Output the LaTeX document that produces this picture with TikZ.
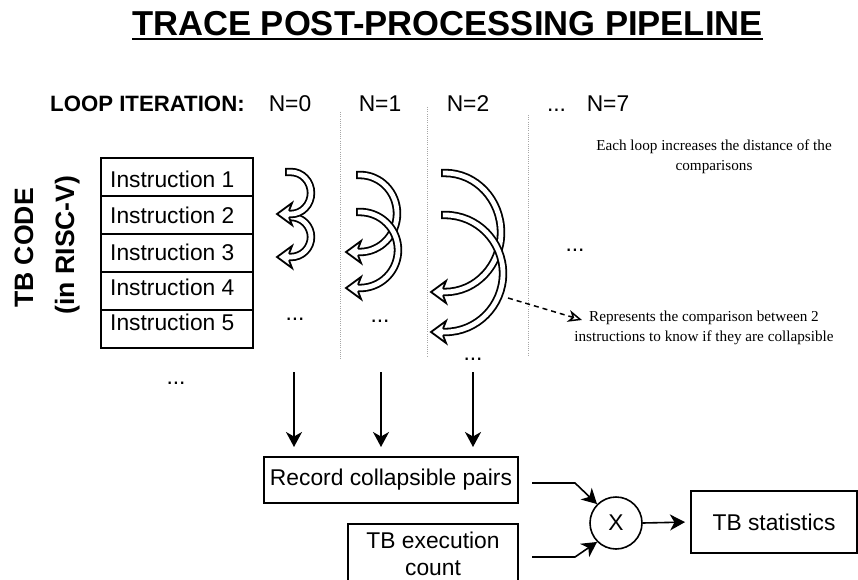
\documentclass[tikz,border=0pt]{standalone}
\usepackage{fontspec}
\setmainfont{Liberation Sans}
\newfontfamily\serifann{Liberation Serif}
\usetikzlibrary{arrows.meta,calc}
\newcommand\cmparrow[5]{%
  \pgfmathsetmacro\cry{(#4-#3)/2}%
  \pgfmathsetmacro\cmy{(#3+#4)/2}%
  \pgfmathsetmacro\ckx{0.5523*#5}%
  \pgfmathsetmacro\cky{0.5523*\cry}%
  \draw[line width=8.4pt, postaction={draw=white, line width=4.8pt, shorten <=1.8pt}]
    (#1,#3) -- (#2,#3) .. controls ({#2+\ckx},#3) and ({#2+#5},{\cmy-\cky}) .. ({#2+#5},\cmy)
    .. controls ({#2+#5},{\cmy+\cky}) and ({#2+\ckx},#4) .. (#2,#4) -- ({#2-2},#4);
  \fill[white] ({#2-2},{#4-3.3}) -- ({#2+1},{#4-11}) -- ({#2-14},#4) -- ({#2+1},{#4+11}) -- ({#2-2},{#4+3.3}) -- cycle;
  \draw[line width=1.8pt, line join=miter] ({#2-2},{#4-3.3}) -- ({#2+1},{#4-11}) -- ({#2-14},#4) -- ({#2+1},{#4+11}) -- ({#2-2},{#4+3.3});
}
\begin{document}
\begin{tikzpicture}[x=1pt,y=-1pt,
  lbl/.style={font=\fontsize{22.8}{27}\selectfont, inner sep=0pt},
  bx/.style={draw, line width=2pt, inner sep=0pt},
  rowbox/.style={bx, minimum width=152pt, minimum height=38pt},
  conn/.style={line width=1.6pt, -{Stealth[length=15pt,width=16pt,inset=4.5pt]}},
  vdots/.style={draw=gray!70, line width=0.8pt, dash pattern=on 1pt off 1.2pt},
  ann/.style={font=\serifann\fontsize{15.2}{20}\selectfont, align=center, inner sep=0pt}
]
\useasboundingbox (0,0) rectangle (858,580);
\clip (0,0) rectangle (858,580);

% title
\node[anchor=base, inner sep=0pt, font=\fontsize{34.6}{40}\selectfont\bfseries] (title) at (447.5,36) {TRACE POST-PROCESSING PIPELINE};
\draw[line width=2pt] ($(title.base west)+(0,3.5)$) -- ($(title.base east)+(0,3.5)$);

% loop iteration header
\node[lbl, anchor=base west, font=\fontsize{22.2}{27}\selectfont\bfseries] (loop) at (50,111.5) {LOOP ITERATION:};
\node[lbl, anchor=base] (n0) at (290,111.5) {N=0};
\node[lbl, anchor=base] (n1) at (380,111.5) {N=1};
\node[lbl, anchor=base] (n2) at (468,111.5) {N=2};
\node[lbl, anchor=base] (nd) at (556.5,111.5) {...};
\node[lbl, anchor=base] (n7) at (608,111.5) {N=7};

% dotted separators
\draw[vdots] (340,112) -- (340,360);
\draw[vdots] (427,107) -- (427,357);
\draw[vdots] (528,115) -- (528,355);

% TB code labels
\node[inner sep=0pt, rotate=90, anchor=base, font=\fontsize{26.6}{30}\selectfont\bfseries] (tbc) at (33,248) {TB CODE};
\node[inner sep=0pt, rotate=90, anchor=base, font=\fontsize{26.6}{30}\selectfont\bfseries] (risc) at (74,245) {(in RISC-V)};

% instruction rows
\node[rowbox] (r1) at (177,177) {};
\node[rowbox] (r2) at (177,215) {};
\node[rowbox] (r3) at (177,253) {};
\node[rowbox] (r4) at (177,291) {};
\node[rowbox] (r5) at (177,329) {};
\node[lbl, anchor=base west] (t1) at (110,187.3) {Instruction 1};
\node[lbl, anchor=base west] (t2) at (110,223.3) {Instruction 2};
\node[lbl, anchor=base west] (t3) at (110,260) {Instruction 3};
\node[lbl, anchor=base west] (t4) at (110,295) {Instruction 4};
\node[lbl, anchor=base west] (t5) at (110,330.7) {Instruction 5};
\node[lbl, anchor=base] (dI) at (176,384.5) {...};

% comparison arrows
\cmparrow{287}{291}{217}{257}{20}
\cmparrow{285}{291}{172}{214}{20}
\cmparrow{356}{360}{175}{252}{37}
\cmparrow{356}{360}{212}{288}{38}
\cmparrow{441}{445}{173}{292}{56}
\cmparrow{441}{445}{215}{332}{58}

\node[lbl, anchor=base] (d0) at (295,320) {...};
\node[lbl, anchor=base] (d1) at (380,322) {...};
\node[lbl, anchor=base] (d2) at (473,360) {...};
\node[lbl, anchor=base] (dR) at (575,251.5) {...};

% annotations
\node[ann] (ann1) at (714,156.5) {Each loop increases the distance of the\\comparisons};
\node[ann] (ann2) at (704,327.5) {Represents the comparison between 2\\instructions to know if they are collapsible};
\coordinate (ds) at (508,298);
\coordinate (de) at (582,320);
\draw[line width=1.5pt, dash pattern=on 5pt off 4pt, -{Stealth[open,length=14pt,width=12pt,inset=4pt]}] (ds) -- (de);

% down arrows
\coordinate (a0s) at (294,372); \coordinate (a0e) at (294,447);
\coordinate (a1s) at (381,372); \coordinate (a1e) at (381,447);
\coordinate (a2s) at (473,372); \coordinate (a2e) at (473,447);
\draw[conn] (a0s) -- (a0e);
\draw[conn] (a1s) -- (a1e);
\draw[conn] (a2s) -- (a2e);

% bottom pipeline
\node[bx, lbl, draw, line width=2pt, minimum width=254pt, minimum height=46pt] (rec) at (391,480) {Record collapsible pairs};
\node[bx, minimum width=170pt, minimum height=80pt, anchor=north] (exec) at (433,523) {};
\node[lbl, align=center, anchor=north] (exectext) at (433,532) {TB execution\\count};
\node[draw, circle, line width=1.6pt, minimum size=52pt, inner sep=0pt, font=\fontsize{22.8}{27}\selectfont] (mul) at (616,523) {X};
\node[bx, lbl, draw, line width=2pt, minimum width=166pt, minimum height=62pt] (stats) at (774,522) {TB statistics};

\coordinate (p1) at (532,483); \coordinate (p1b) at (575,483);
\coordinate (p2) at (532,557); \coordinate (p2b) at (575,557);
\draw[conn] (p1) -- (p1b) -- (mul.135);
\draw[conn] (p2) -- (p2b) -- (mul.225);
\draw[conn, shorten >=5pt] (mul.east) -- (stats.west);
\end{tikzpicture}
\end{document}
